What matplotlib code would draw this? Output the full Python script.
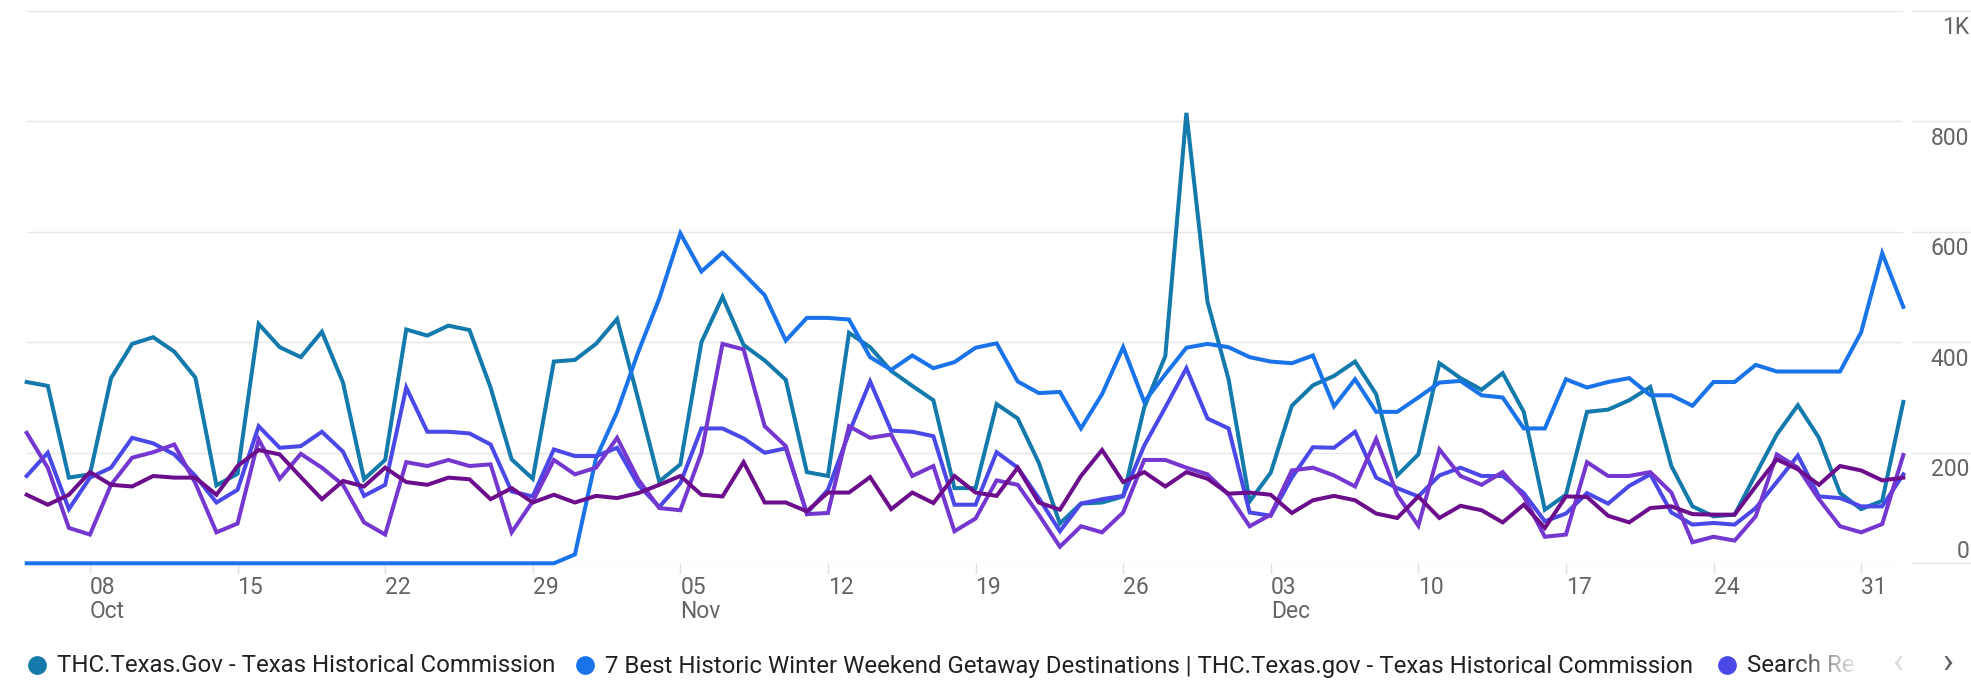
import numpy as np
import pandas as pd
import matplotlib
matplotlib.use("Agg")
import matplotlib.pyplot as plt
import matplotlib.transforms as mtransforms

plt.rcParams['font.family'] = ['Roboto', 'DejaVu Sans']

# Daily page views, 5 Oct - 2 Jan
dates = pd.date_range("2023-10-05", "2024-01-02", freq="D")

thc_home = [
    328, 321, 155, 161, 335, 397, 409, 383, 336, 141, 162, 433, 391, 373, 419, 327,
    152, 187, 423, 412, 430, 422, 318, 188, 153, 365, 368, 397, 442, 297, 148,
    179, 400, 482, 395, 367, 332, 165, 158, 417, 391, 348, 321, 295, 136, 136,
    288, 262, 182, 72, 108, 110, 121, 282, 375, 815, 473, 333, 112, 164, 285, 322,
    339, 365, 306, 159, 197, 362, 335, 314, 344, 274, 97, 124, 274, 278, 295,
    319, 176, 103, 85, 88, 161, 233, 286, 227, 127, 98, 113, 292,
]
winter_getaways = [0] * 26 + [
    16, 190, 274, 382, 479,
    597, 528, 562, 524, 485, 403, 444, 444, 441, 373, 350, 376, 353, 364, 390,
    398, 329, 308, 310, 244, 306, 391, 292, 342, 390, 397, 391, 373, 365, 362, 376,
    284, 333, 274, 274, 300, 327, 330, 304, 300, 244, 244, 333, 318, 328, 335,
    304, 304, 285, 328, 328, 359, 347, 347, 347, 347, 418, 561, 464,
]
search_results = [
    158, 200, 98, 155, 173, 227, 217, 197, 158, 110, 133, 248, 209, 212, 238, 202,
    122, 142, 318, 238, 238, 235, 215, 130, 121, 206, 194, 194, 209, 142, 102,
    145, 244, 244, 226, 200, 208, 91, 133, 236, 329, 240, 238, 230, 106, 106,
    201, 173, 118, 58, 108, 116, 122, 213, 282, 353, 262, 244, 92, 86, 155, 210,
    209, 238, 155, 136, 121, 159, 173, 158, 158, 127, 76, 90, 127, 108, 140,
    161, 92, 70, 73, 70, 100, 147, 195, 121, 118, 103, 103, 161,
]
page_four = [
    236, 173, 64, 52, 142, 191, 201, 215, 145, 56, 72, 224, 153, 198, 173, 142,
    74, 52, 183, 176, 187, 176, 179, 56, 112, 187, 161, 173, 227, 152, 100,
    96, 200, 397, 387, 248, 212, 89, 91, 248, 227, 233, 158, 176, 58, 81,
    150, 142, 88, 30, 67, 56, 92, 187, 187, 173, 161, 124, 67, 88, 168, 173,
    159, 139, 225, 124, 68, 206, 158, 142, 165, 121, 48, 52, 183, 158, 158,
    165, 128, 38, 48, 41, 85, 197, 173, 116, 67, 56, 71, 196,
]
page_five = [
    124, 106, 124, 165, 142, 139, 158, 155, 155, 124, 176, 205, 197, 156, 116, 149,
    139, 173, 147, 142, 155, 152, 116, 136, 110, 124, 110, 122, 118, 127, 142,
    158, 124, 121, 183, 110, 110, 94, 128, 128, 156, 98, 128, 109, 158, 128,
    122, 173, 110, 97, 158, 205, 147, 165, 139, 165, 153, 126, 128, 124, 91, 114,
    122, 114, 90, 82, 121, 82, 104, 96, 74, 106, 64, 121, 120, 86, 74,
    100, 103, 89, 88, 88, 139, 188, 170, 142, 176, 168, 150, 155,
]

series = [thc_home, winter_getaways, search_results, page_four, page_five]
colors = ["#137aab", "#1a73e8", "#4b48e8", "#7437cf", "#6c0d8c"]

legend_labels = [
    "THC.Texas.Gov - Texas Historical Commission",
    "7 Best Historic Winter Weekend Getaway Destinations | THC.Texas.gov - Texas Historical Commission",
    "Search Re",
]

y_ticks = [0, 200, 400, 600, 800, 1000]
y_labels = ["0", "200", "400", "600", "800", "1K"]

W, H = 1971, 689
fig = plt.figure(figsize=(W / 100, H / 100), dpi=100)
x0, x1 = 26.7, 1903.3
yb, yt = 563.3, 10.6
ax = fig.add_axes([x0 / W, 1 - yb / H, (x1 - x0) / W, (yb - yt) / H])

days = np.arange(len(dates))
for vals, c in zip(series, colors):
    ax.plot(days, vals, color=c, lw=2.9, solid_joinstyle="miter", clip_on=False, zorder=3)

ax.set_xlim(days[0], days[-1])
ax.set_ylim(0, 1000)

for s in ax.spines.values():
    s.set_visible(False)

grid_c = "#e6e6e6"
ax.set_yticks(y_ticks)
ax.yaxis.grid(True, color=grid_c, lw=1.0, zorder=0)
ax.tick_params(axis="y", length=0, labelleft=False, labelright=False)

# gridline stubs across the value-label column on the right
blend = mtransforms.blended_transform_factory(ax.transAxes, ax.transData)
ext_a = (1912 - x0) / (x1 - x0)
ext_b = (W - x0) / (x1 - x0)
for v in y_ticks:
    ax.plot([ext_a, ext_b], [v, v], color=grid_c, lw=1.0, transform=blend, clip_on=False, zorder=0)

# value labels: under their gridline, except zero which sits above it
lab_x = (W - 2 - x0) / (x1 - x0)
for v, lab in zip(y_ticks, y_labels):
    dy = 12 if v == 0 else -17
    off = mtransforms.ScaledTranslation(0, dy / 100, fig.dpi_scale_trans)
    ax.text(lab_x, v, lab, transform=blend + off, ha="right", va="center",
            fontsize=16.5, color="#646464")

# weekly ticks, month name under the first tick shown for each month
tick_idx = [i for i, d in enumerate(dates) if d.dayofweek == dates[3].dayofweek]
tick_lbl = []
seen = set()
for i in tick_idx:
    d = dates[i]
    if d.month not in seen:
        tick_lbl.append(f"{d.day:02d}\n{d.strftime('%b')}")
    else:
        tick_lbl.append(f"{d.day:02d}")
    seen.add(d.month)
ax.set_xticks(tick_idx)
ax.set_xticklabels(tick_lbl, ha="left", fontsize=16.5, color="#646464", linespacing=1.08)
ax.tick_params(axis="x", length=8, width=1.0, color="#e0e0e0", pad=1)

# legend row along the bottom
lax = fig.add_axes([0, 0, 1, 1], facecolor="none")
lax.set_xlim(0, W)
lax.set_ylim(H, 0)
lax.axis("off")
leg_x = [37, 585, 1727]
leg_y = 665
for lx, lab, c in zip(leg_x, legend_labels, colors[:3]):
    lax.plot(lx, leg_y, "o", ms=13.5, color=c, mec="none")
    lax.text(lx + 20, leg_y + 1, lab, ha="left", va="center", fontsize=17.3, color="#202124")

# fade-out over the clipped third entry
fade = np.ones((1, 256, 4))
fade[0, :, 3] = np.linspace(0, 1, 256)
lax.imshow(fade, extent=(1790, 1862, leg_y + 16, leg_y - 16), aspect="auto", zorder=5)
lax.add_patch(plt.Rectangle((1862, leg_y - 16), 20, 32, color="white", zorder=5))
lax.text(1898, leg_y - 2, "‹", ha="center", va="center", fontsize=26, color="#dadce0", zorder=6)
lax.text(1948, leg_y - 2, "›", ha="center", va="center", fontsize=26, color="#5f6368", zorder=6)
lax.set_xlim(0, W)
lax.set_ylim(H, 0)

fig.savefig("out.png", dpi=100)
